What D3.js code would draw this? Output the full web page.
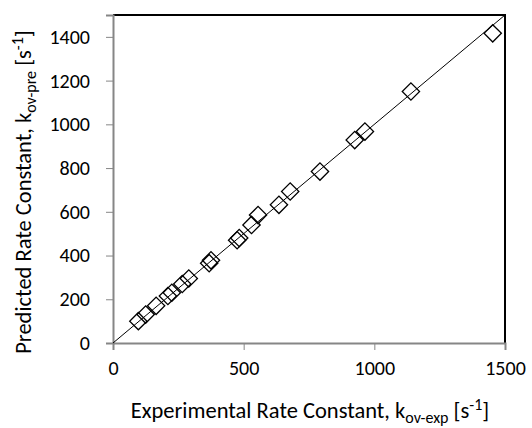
<!DOCTYPE html>
<html>
<head>
<meta charset="utf-8">
<script src="https://cdnjs.cloudflare.com/ajax/libs/d3/7.8.5/d3.min.js"></script>
<style>
  body { margin: 0; background: #fff; }
  svg { display: block; font-family: Carlito, Calibri, Lato, sans-serif; }
</style>
</head>
<body>
<svg width="532" height="428"></svg>
<script>
// experimental vs predicted rate constants [s^-1]
var expValues = [97, 125, 165, 210, 225, 265, 290, 368, 375, 475, 483, 530, 555, 635, 678, 792, 925, 964, 1140, 1453];
var preValues = [100, 130, 170, 215, 230, 270, 295, 365, 378, 470, 480, 540, 585, 632, 693, 784, 928, 967, 1150, 1416];
var xTicks = [0, 500, 1000, 1500];
var yTicks = [0, 200, 400, 600, 800, 1000, 1200, 1400];

var svg = d3.select("svg"),
    margin = {top: 15, right: 27, bottom: 85, left: 113},
    width = +svg.attr("width") - margin.left - margin.right,
    height = +svg.attr("height") - margin.top - margin.bottom,
    g = svg.append("g").attr("transform", "translate(" + margin.left + "," + margin.top + ")");

var x = d3.scaleLinear().domain([0, 1500]).range([0, width]);
var y = d3.scaleLinear().domain([0, 1500]).range([height, 0]);

var data = expValues.map(function (d, i) {
    return {exp: d, pre: preValues[i]};
});

// frame: top and right in black
g.append("path")
    .attr("d", "M0,0H" + width + "V" + height)
    .attr("fill", "none")
    .attr("stroke", "#000")
    .attr("stroke-width", 2);

var xAxis = g.append("g")
    .attr("transform", "translate(0," + height + ")")
    .call(d3.axisBottom(x).tickValues(xTicks).tickFormat(d3.format("d")).tickSize(7).tickPadding(11));

var yAxis = g.append("g")
    .call(d3.axisLeft(y).tickValues(yTicks).tickFormat(d3.format("d")).tickSize(7).tickPadding(16));

[xAxis, yAxis].forEach(function (a) {
    a.select(".domain").attr("stroke", "#868686").attr("stroke-width", 2);
    a.selectAll(".tick line").attr("stroke", "#868686");
    a.selectAll(".tick text")
        .attr("fill", "#000")
        .style("font-size", "20px")
        .style("font-family", "Carlito, Calibri, Lato, sans-serif");
});

// 1:1 line
g.append("line")
    .attr("x1", x(0)).attr("y1", y(0))
    .attr("x2", x(1500)).attr("y2", y(1500))
    .attr("stroke", "#000")
    .attr("stroke-width", 1);

var diamond = d3.symbol().type(d3.symbolSquare).size(150);

g.selectAll(".pt")
    .data(data)
    .enter().append("path")
    .attr("class", "pt")
    .attr("d", diamond)
    .attr("transform", function (d) {
        return "translate(" + x(d.exp) + "," + y(d.pre) + ") rotate(45)";
    })
    .attr("fill", "none")
    .attr("stroke", "#000")
    .attr("stroke-width", 1.3);

// axis titles
var xt = svg.append("text")
    .attr("x", 310)
    .attr("y", 418)
    .attr("text-anchor", "middle")
    .style("font-size", "22.5px");
xt.append("tspan").text("Experimental Rate Constant, k");
xt.append("tspan").attr("dy", 5).style("font-size", "16px").text("ov-exp");
xt.append("tspan").attr("dy", -5).text(" [s");
xt.append("tspan").attr("dy", -8).style("font-size", "16px").text("-1");
xt.append("tspan").attr("dy", 8).text("]");

var yt = svg.append("text")
    .attr("transform", "translate(31,192) rotate(-90)")
    .attr("text-anchor", "middle")
    .style("font-size", "22.5px");
yt.append("tspan").text("Predicted Rate Constant, k");
yt.append("tspan").attr("dy", 5).style("font-size", "16px").text("ov-pre");
yt.append("tspan").attr("dy", -5).text(" [s");
yt.append("tspan").attr("dy", -8).style("font-size", "16px").text("-1");
yt.append("tspan").attr("dy", 8).text("]");
</script>
</body>
</html>
